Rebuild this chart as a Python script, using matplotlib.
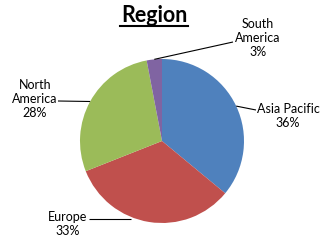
import numpy as np
import matplotlib
matplotlib.use("Agg")
import matplotlib.pyplot as plt

categories = ["Asia Pacific", "Europe", "North America", "South America"]
values = [36, 33, 28, 3]
label_texts = ["Asia Pacific\n36%", "Europe\n33%", "North\nAmerica\n28%", "South\nAmerica\n3%"]
colors = ["#4F81BD", "#C0504D", "#9BBB59", "#8064A2"]
title = "Region"

W, H = 328, 252
fig = plt.figure(figsize=(W / 100, H / 100), dpi=100)
ax = fig.add_axes([0, 0, 1, 1])

cx, cy, r = 162, H - 141, 82
wedges, _ = ax.pie(values, colors=colors, startangle=90, counterclock=False,
                   center=(cx, cy), radius=r, frame=True,
                   wedgeprops=dict(linewidth=0))
ax.set_xlim(0, W)
ax.set_ylim(0, H)
ax.set_aspect("equal")
ax.axis("off")

# label placement: (text x, text y (px from top), leader end x, leader end y)
layout = {
    "Asia Pacific": (288, 116, 256, 110),
    "Europe": (68, 224, 89, 219),
    "North America": (35, 99, 58, 101),
    "South America": (258, 38, 233, 42),
}
font = ["Lato", "DejaVu Sans"]
for w, cat, txt in zip(wedges, categories, label_texts):
    ang = np.deg2rad((w.theta1 + w.theta2) / 2)
    ex, ey = cx + r * np.cos(ang), cy + r * np.sin(ang)
    tx, ty, lx, ly = layout[cat]
    if cat == "Europe":
        ex, ey = 131, H - 219
    ax.plot([ex, lx], [ey, H - ly], color="black", lw=0.8, solid_capstyle="butt")
    ax.text(tx, H - ty, txt, ha="center", va="center", fontsize=9, family=font,
            linespacing=1.2, color="black")

ax.text(154, H - 15, title, ha="center", va="center", fontsize=15.5,
        fontweight="bold", family=font)
ax.plot([120, 188], [H - 26, H - 26], color="black", lw=1.5)

fig.savefig("out.png", dpi=100)
